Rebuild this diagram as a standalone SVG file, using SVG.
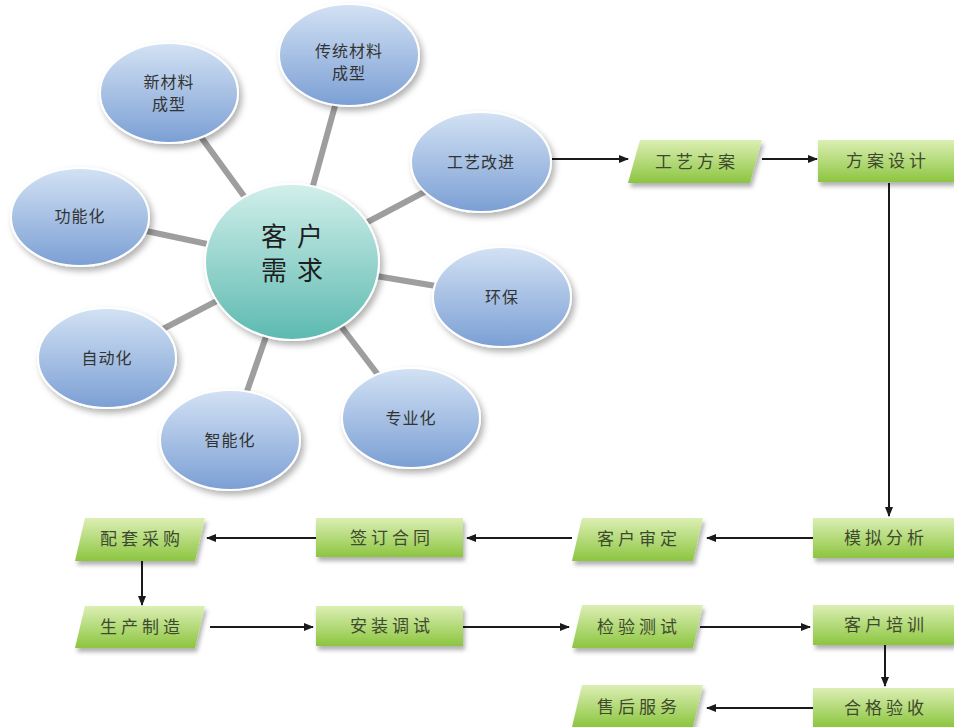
<svg xmlns="http://www.w3.org/2000/svg" width="954" height="727" viewBox="0 0 954 727">
<defs>
<linearGradient id="gBlue" x1="0" y1="0" x2="0" y2="1">
<stop offset="0" stop-color="#d3e2f4"/>
<stop offset="1" stop-color="#7b9fd4"/>
</linearGradient>
<linearGradient id="gTeal" x1="0" y1="0" x2="0" y2="1">
<stop offset="0" stop-color="#d2efeb"/>
<stop offset="1" stop-color="#5cbab0"/>
</linearGradient>
<linearGradient id="gGreen" x1="0" y1="0" x2="0" y2="1">
<stop offset="0" stop-color="#dcefb4"/>
<stop offset="1" stop-color="#8cc540"/>
</linearGradient>
<filter id="sh" x="-20%" y="-20%" width="150%" height="150%">
<feDropShadow dx="3" dy="4" stdDeviation="3" flood-color="#000" flood-opacity="0.3"/>
</filter>
<filter id="shb" x="-10%" y="-20%" width="130%" height="160%">
<feDropShadow dx="2" dy="4" stdDeviation="2" flood-color="#000" flood-opacity="0.3"/>
</filter>
<marker id="ah" viewBox="0 0 10 10" refX="9" refY="5" markerWidth="10" markerHeight="10" markerUnits="userSpaceOnUse" orient="auto">
<path d="M0,1 L10,5 L0,9 Z" fill="#1a1a1a"/>
</marker>
<style>
.bub{fill:url(#gBlue);stroke:#fff;stroke-width:2;filter:url(#sh)}
.ctr{fill:url(#gTeal);stroke:#fff;stroke-width:2;filter:url(#sh)}
.box{fill:url(#gGreen);filter:url(#shb)}
.spoke{stroke:#9e9e9e;stroke-width:6}
.arr{stroke:#1a1a1a;stroke-width:2;fill:none;marker-end:url(#ah)}
.bt{font-family:"Noto Sans CJK SC","Liberation Serif",serif;font-size:16px;fill:#333;text-anchor:middle;letter-spacing:1px}
.gt{font-family:"Noto Sans CJK SC","Liberation Serif",serif;font-size:17px;fill:#3e4a2e;text-anchor:middle;letter-spacing:4px}
.ct{font-family:"Noto Sans CJK SC","Liberation Sans",sans-serif;font-size:26px;fill:#1e1e1e;text-anchor:middle;letter-spacing:10px}
</style>
</defs>
<g id="connectors">
<line class="spoke" x1="292" y1="262" x2="169" y2="93"/>
<line class="spoke" x1="292" y1="262" x2="349" y2="55"/>
<line class="spoke" x1="292" y1="262" x2="481" y2="162"/>
<line class="spoke" x1="292" y1="262" x2="80" y2="217"/>
<line class="spoke" x1="292" y1="262" x2="502" y2="297"/>
<line class="spoke" x1="292" y1="262" x2="107" y2="358"/>
<line class="spoke" x1="292" y1="262" x2="411" y2="418"/>
<line class="spoke" x1="292" y1="262" x2="230" y2="440"/>
<line class="arr" x1="552" y1="159" x2="628" y2="159"/>
<line class="arr" x1="762" y1="159" x2="817" y2="159"/>
<line class="arr" x1="889" y1="183" x2="889" y2="516"/>
<line class="arr" x1="813" y1="538" x2="707" y2="538"/>
<line class="arr" x1="572" y1="538" x2="467" y2="538"/>
<line class="arr" x1="316" y1="538" x2="207" y2="538"/>
<line class="arr" x1="142" y1="561" x2="142" y2="605"/>
<line class="arr" x1="210" y1="627" x2="313" y2="627"/>
<line class="arr" x1="463" y1="627" x2="569" y2="627"/>
<line class="arr" x1="700" y1="627" x2="810" y2="627"/>
<line class="arr" x1="885" y1="645" x2="885" y2="686"/>
<line class="arr" x1="813" y1="708" x2="707" y2="708"/>
</g>
<g id="n-xcl"><ellipse class="bub" cx="169" cy="93" rx="69" ry="50"/><text class="bt" x="169" y="88">新材料</text><text class="bt" x="169" y="110">成型</text></g>
<g id="n-ctcl"><ellipse class="bub" cx="349" cy="55" rx="70" ry="51"/><text class="bt" x="349" y="57">传统材料</text><text class="bt" x="349" y="79">成型</text></g>
<g id="n-gygj"><ellipse class="bub" cx="481" cy="162" rx="70" ry="50"/><text class="bt" x="481" y="168">工艺改进</text></g>
<g id="n-gnh"><ellipse class="bub" cx="80" cy="217" rx="69" ry="49"/><text class="bt" x="80" y="222">功能化</text></g>
<g id="n-hb"><ellipse class="bub" cx="502" cy="297" rx="69" ry="50"/><text class="bt" x="502" y="303">环保</text></g>
<g id="n-zdh"><ellipse class="bub" cx="107" cy="358" rx="69" ry="50"/><text class="bt" x="107" y="364">自动化</text></g>
<g id="n-zyh"><ellipse class="bub" cx="411" cy="418" rx="69" ry="50"/><text class="bt" x="411" y="424">专业化</text></g>
<g id="n-znh"><ellipse class="bub" cx="230" cy="440" rx="70" ry="50"/><text class="bt" x="230" y="446">智能化</text></g>
<g id="n-center"><ellipse class="ctr" cx="292" cy="262" rx="87" ry="78"/><text class="ct" x="297" y="246">客户</text><text class="ct" x="297" y="280">需求</text></g>
<g id="n-gyfa"><polygon class="box" points="640,140 762,140 750,183 628,183"/><text class="gt" x="697" y="168">工艺方案</text></g>
<g id="n-fasj"><rect class="box" x="818" y="140" width="136" height="42"/><text class="gt" x="888" y="167">方案设计</text></g>
<g id="n-mnfx"><rect class="box" x="813" y="518" width="141" height="40"/><text class="gt" x="886" y="544">模拟分析</text></g>
<g id="n-khsd"><polygon class="box" points="582,518 703,518 693,561 572,561"/><text class="gt" x="639" y="545">客户审定</text></g>
<g id="n-qdht"><rect class="box" x="316" y="518" width="147" height="39"/><text class="gt" x="392" y="544">签订合同</text></g>
<g id="n-ptcg"><polygon class="box" points="85,518 205,518 195,561 75,561"/><text class="gt" x="142" y="545">配套采购</text></g>
<g id="n-sczz"><polygon class="box" points="85,606 205,606 195,648 75,648"/><text class="gt" x="142" y="633">生产制造</text></g>
<g id="n-azts"><rect class="box" x="316" y="606" width="147" height="40"/><text class="gt" x="392" y="632">安装调试</text></g>
<g id="n-jycs"><polygon class="box" points="582,605 703,605 693,648 572,648"/><text class="gt" x="639" y="633">检验测试</text></g>
<g id="n-khpx"><rect class="box" x="813" y="605" width="141" height="40"/><text class="gt" x="886" y="631">客户培训</text></g>
<g id="n-hgys"><rect class="box" x="813" y="688" width="141" height="39"/><text class="gt" x="886" y="714">合格验收</text></g>
<g id="n-shfw"><polygon class="box" points="582,685 703,685 693,727 572,727"/><text class="gt" x="639" y="713">售后服务</text></g>
</svg>
